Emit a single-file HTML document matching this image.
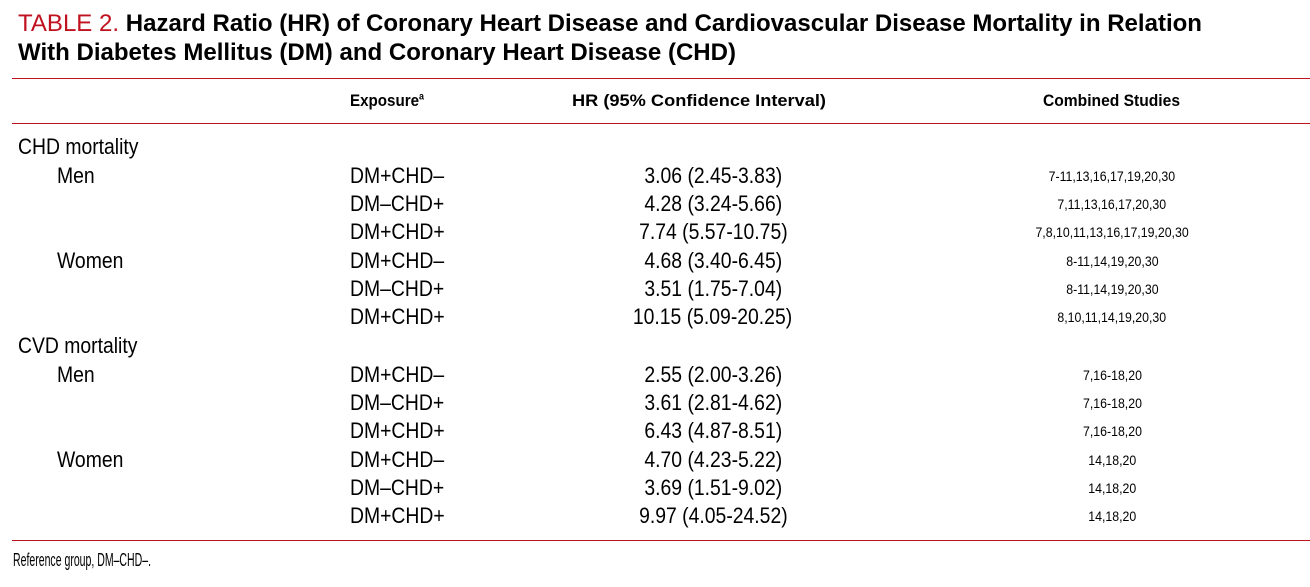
<!DOCTYPE html>
<html><head><meta charset="utf-8">
<style>
body{margin:0;width:1310px;height:587px;background:#fff;position:relative;overflow:hidden;font-family:"Liberation Sans Narrow","Liberation Sans",sans-serif;color:#000}
.t{position:absolute;white-space:nowrap;line-height:1;transform-origin:left center}
.c{transform-origin:center center}
.rule{position:absolute;left:12px;width:1298px;height:1px;background:#c0111f}
</style></head><body>
<div class="t" data-w="1184" style="left:18px;top:12px;font-size:24px;font-weight:bold"><span style="color:#c0111f;font-weight:normal">TABLE 2.</span> Hazard Ratio (HR) of Coronary Heart Disease and Cardiovascular Disease Mortality in Relation</div>
<div class="t" data-w="718" style="left:18px;top:41px;font-size:24px;font-weight:bold">With Diabetes Mellitus (DM) and Coronary Heart Disease (CHD)</div>
<div class="rule" style="top:78px"></div>
<div class="t" data-w="74" style="left:350px;top:92px;font-size:17px;font-weight:bold">Exposure<sup style="font-size:10px">a</sup></div>
<div class="t" data-w="254" style="left:572px;top:92px;font-size:17px;font-weight:bold">HR (95% Confidence Interval)</div>
<div class="t" data-w="137" style="left:1043px;top:92px;font-size:17px;font-weight:bold">Combined Studies</div>
<div class="rule" style="top:123px"></div>
<div id="rows"></div>
<div class="rule" style="top:540px"></div>
<div class="t" data-w="138" style="left:13px;top:551px;font-size:18px">Reference group, DM–CHD–.</div>
<script>
const ys=[148,177,205,233,262,290,318,347,376,404,432,461,489,517];
const groupLabels=["CHD mortality","Men","","","Women","","","CVD mortality","Men","","","Women","",""];
const exposures=["","DM+CHD–","DM–CHD+","DM+CHD+","DM+CHD–","DM–CHD+","DM+CHD+","","DM+CHD–","DM–CHD+","DM+CHD+","DM+CHD–","DM–CHD+","DM+CHD+"];
const hrs=["","3.06 (2.45-3.83)","4.28 (3.24-5.66)","7.74 (5.57-10.75)","4.68 (3.40-6.45)","3.51 (1.75-7.04)","10.15 (5.09-20.25)","","2.55 (2.00-3.26)","3.61 (2.81-4.62)","6.43 (4.87-8.51)","4.70 (4.23-5.22)","3.69 (1.51-9.02)","9.97 (4.05-24.52)"];
const studies=["","7-11,13,16,17,19,20,30","7,11,13,16,17,20,30","7,8,10,11,13,16,17,19,20,30","8-11,14,19,20,30","8-11,14,19,20,30","8,10,11,14,19,20,30","","7,16-18,20","7,16-18,20","7,16-18,20","14,18,20","14,18,20","14,18,20"];
const R=document.getElementById('rows');
function add(txt,x,y,size,center,name){
  if(!txt)return;
  const d=document.createElement('div');
  
  
  d.className='t'+(center?' c':'');
  d.textContent=txt;
  d.style.fontSize=size+'px';
  d.style.top=(y-size*0.55)+'px';
  R.appendChild(d);
  const w=d.getBoundingClientRect().width;
  const s=0.88;
  if(center){d.style.left=(x-w/2)+'px';}else d.style.left=x+'px';
  d.style.transform='scaleX('+s+')';
}
ys.forEach((y,i)=>{
  const g=groupLabels[i];
  const indent=(g==="Men"||g==="Women");
  add(g,indent?57:18,y,22,false,'row-label');
  add(exposures[i],350,y,22,false,'exposure-cell');
  add(hrs[i],713,y,22,true,'hr-cell');
  add(studies[i],1112,y,14,true,'studies-cell');
});
document.querySelectorAll('[data-w]').forEach(el=>{
  const w=el.getBoundingClientRect().width;
  el.style.transform='scaleX('+(+el.dataset.w/w)+')';
});
</script>
</body></html>
